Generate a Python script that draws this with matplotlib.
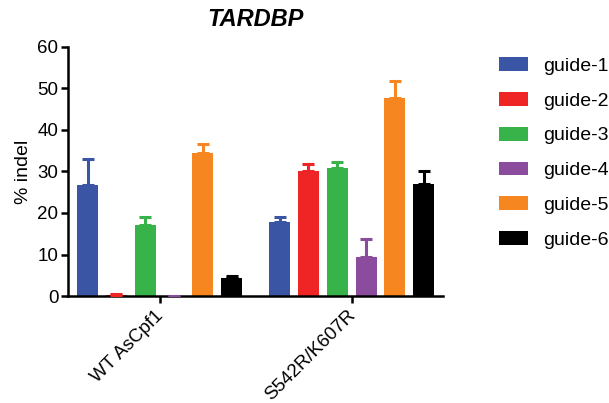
import matplotlib
matplotlib.use("Agg")
import matplotlib.pyplot as plt
import matplotlib.transforms as mtransforms
import numpy as np
from matplotlib.patches import Patch

plt.rcParams['font.family'] = ['Liberation Sans', 'DejaVu Sans']

groups = ["WT AsCpf1", "S542R/K607R"]
guides = ["guide-1", "guide-2", "guide-3", "guide-4", "guide-5", "guide-6"]
colors = ["#3A55A4", "#EE2524", "#37B34A", "#8B4C9E", "#F58620", "#000000"]
# values per guide: [WT, S542R/K607R]
means = {
    "guide-1": [26.7, 17.8],
    "guide-2": [0.3, 30.0],
    "guide-3": [17.0, 30.8],
    "guide-4": [-0.2, 9.5],
    "guide-5": [34.5, 47.8],
    "guide-6": [4.3, 27.0],
}
errs = {
    "guide-1": [6.3, 1.2],
    "guide-2": [0.1, 1.8],
    "guide-3": [2.1, 1.5],
    "guide-4": [0.1, 4.3],
    "guide-5": [2.2, 4.0],
    "guide-6": [0.4, 3.0],
}

fig = plt.figure(figsize=(6.09, 4.03), dpi=100)
ax = fig.add_axes([0.1117, 0.2655, 0.6157, 0.6179])

centers = np.array([0.0, 6.67])
width = 0.73
for i, g in enumerate(guides):
    x = centers + (i - 2.5)
    ax.bar(x, means[g], width=width, color=colors[i], zorder=2)
    ax.errorbar(x, means[g], yerr=[np.zeros(2), errs[g]], fmt='none',
                ecolor=colors[i], elinewidth=2.2, capsize=4, capthick=2.2, zorder=3)

ax.set_xlim(-3.18, 9.84)
ax.set_ylim(0, 60)
ax.set_yticks(range(0, 61, 10))
ax.set_xticks(centers)
ax.set_xticklabels([""] * len(groups))
tr = mtransforms.offset_copy(ax.get_xaxis_transform(), fig=fig, x=-5, y=-11, units='dots')
for c, lbl in zip(centers, groups):
    ax.text(c, 0, lbl, transform=tr, rotation=45, ha='right', va='top',
            rotation_mode='anchor', fontsize=13.5, clip_on=False)
for s in ['top', 'right']:
    ax.spines[s].set_visible(False)
for s in ['left', 'bottom']:
    ax.spines[s].set_linewidth(1.8)
ax.tick_params(axis='both', width=1.8, length=5, labelsize=13.5)
ax.tick_params(axis='y', pad=2)
ax.set_ylabel("% indel", fontsize=14)
ax.set_title("TARDBP", fontsize=17, fontweight='bold', fontstyle='italic', pad=15)

handles = [Patch(facecolor=c, label=g) for c, g in zip(colors, guides)]
fig.legend(handles=handles, loc='upper left', bbox_to_anchor=(0.8194, 0.8585),
           frameon=False, fontsize=14, handlelength=1.5, handleheight=0.72,
           labelspacing=0.88, handletextpad=0.77, borderaxespad=0, borderpad=0)

fig.savefig("out.png", dpi=100)
